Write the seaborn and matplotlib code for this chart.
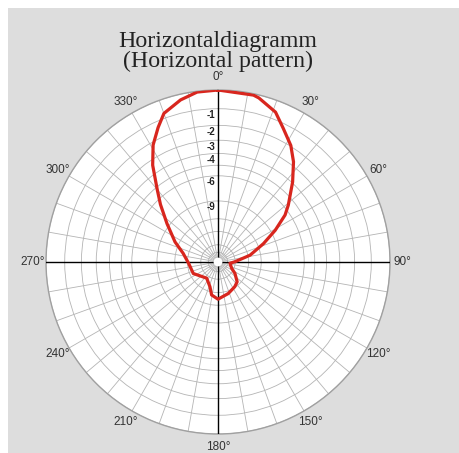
import numpy as np
import pandas as pd
import matplotlib
matplotlib.use("Agg")
import matplotlib.pyplot as plt
import matplotlib.transforms as mtransforms
from matplotlib.patches import Rectangle
import seaborn as sns

# ---- data ----
angles_deg = [0, 12, 14, 21, 26, 32, 37, 43, 51, 55, 61, 68, 78, 89, 96, 115, 124,
              136, 146, 162, 180, 191, 198, 215, 245, 268, 284, 295, 307, 315, 320,
              326, 331, 336, 340, 347, 353, 360]
gain_db = [0.0, -0.07, -0.15, -0.6, -1.26, -1.95, -2.74, -3.93, -5.58, -6.45, -8.4,
           -10.9, -14.4, -20.1, -23.1, -21.1, -18.5, -15.9, -15.2, -14.3, -13.3,
           -14.2, -16.4, -18.8, -16.0, -15.3, -13.6, -11.2, -8.6, -6.5, -5.2, -3.36,
           -2.18, -1.35, -0.73, -0.29, -0.04, 0.0]
grid_db = [0, -1, -2, -3, -4, -5, -6, -9, -12, -15, -20, -25]
label_db = [-1, -2, -3, -4, -6, -9]
angle_labels = [0, 30, 60, 90, 120, 150, 180, 210, 240, 270, 300, 330]

plt.rcParams['font.family'] = ['Liberation Sans', 'DejaVu Sans']

def db2r(db):
    return 10 ** (np.asarray(db, dtype=float) / 20.0)

W, H = 460, 453
fig = plt.figure(figsize=(W / 100, H / 100), dpi=100)
fig.patch.set_facecolor('white')
bg = fig.add_axes([8 / W, 0, (W - 8) / W, (H - 8) / H], zorder=-5)
bg.set_facecolor('#dddddd')
bg.set_xticks([])
bg.set_yticks([])
for s in bg.spines.values():
    s.set_visible(False)

cx, cy, R = 218, 262, 172
ax = fig.add_axes([(cx - R) / W, (H - cy - R) / H, 2 * R / W, 2 * R / H],
                  projection='polar', zorder=1)
ax.set_theta_zero_location('N')
ax.set_theta_direction(-1)
ax.set_facecolor('white')
ax.set_ylim(0, 1)
ax.set_yticks(db2r(grid_db))
ax.set_yticklabels([])
ax.set_xticks(np.deg2rad(np.arange(0, 360, 10)))
ax.set_xticklabels([])
ax.grid(True, color='#b4b4b4', linewidth=0.6)
ax.spines['polar'].set_color('#a0a0a0')
ax.spines['polar'].set_linewidth(1.0)
ax.tick_params(length=0, pad=0)

# main axes lines
for t in [0, 90, 180, 270]:
    ax.plot([np.deg2rad(t), np.deg2rad(t)], [0, 1], color='black', lw=1.0, zorder=3)

# center white dot
ax.scatter([0], [0], s=40, color='white', zorder=4, edgecolors='none')

# pattern
df = pd.DataFrame({'theta': np.deg2rad(angles_deg), 'r': db2r(gain_db)})
sns.lineplot(data=df, x='theta', y='r', sort=False, ax=ax, color='#d8261e',
             linewidth=2.3, zorder=5)
ax.set_xlabel('')
ax.set_ylabel('')

# dB labels
off = mtransforms.ScaledTranslation(-3 / 100, -6.5 / 100, fig.dpi_scale_trans)
for d in label_db:
    ax.text(0, db2r(d), str(d), transform=ax.transData + off, ha='right',
            va='center', fontsize=7, fontweight='bold', color='#222222', zorder=6)

# angle labels
for a in angle_labels:
    ax.text(np.deg2rad(a), 1.075, f'{a}°', ha='center', va='center',
            fontsize=8.5, color='#333333', clip_on=False)

fig.text(cx / W, 1 - 41 / H, 'Horizontaldiagramm', ha='center', va='center',
         fontsize=17.2, family='Liberation Serif', color='#222222')
fig.text(cx / W, 1 - 61.5 / H, '(Horizontal pattern)', ha='center', va='center',
         fontsize=17.2, family='Liberation Serif', color='#222222')

fig.savefig('out.png', dpi=100)
